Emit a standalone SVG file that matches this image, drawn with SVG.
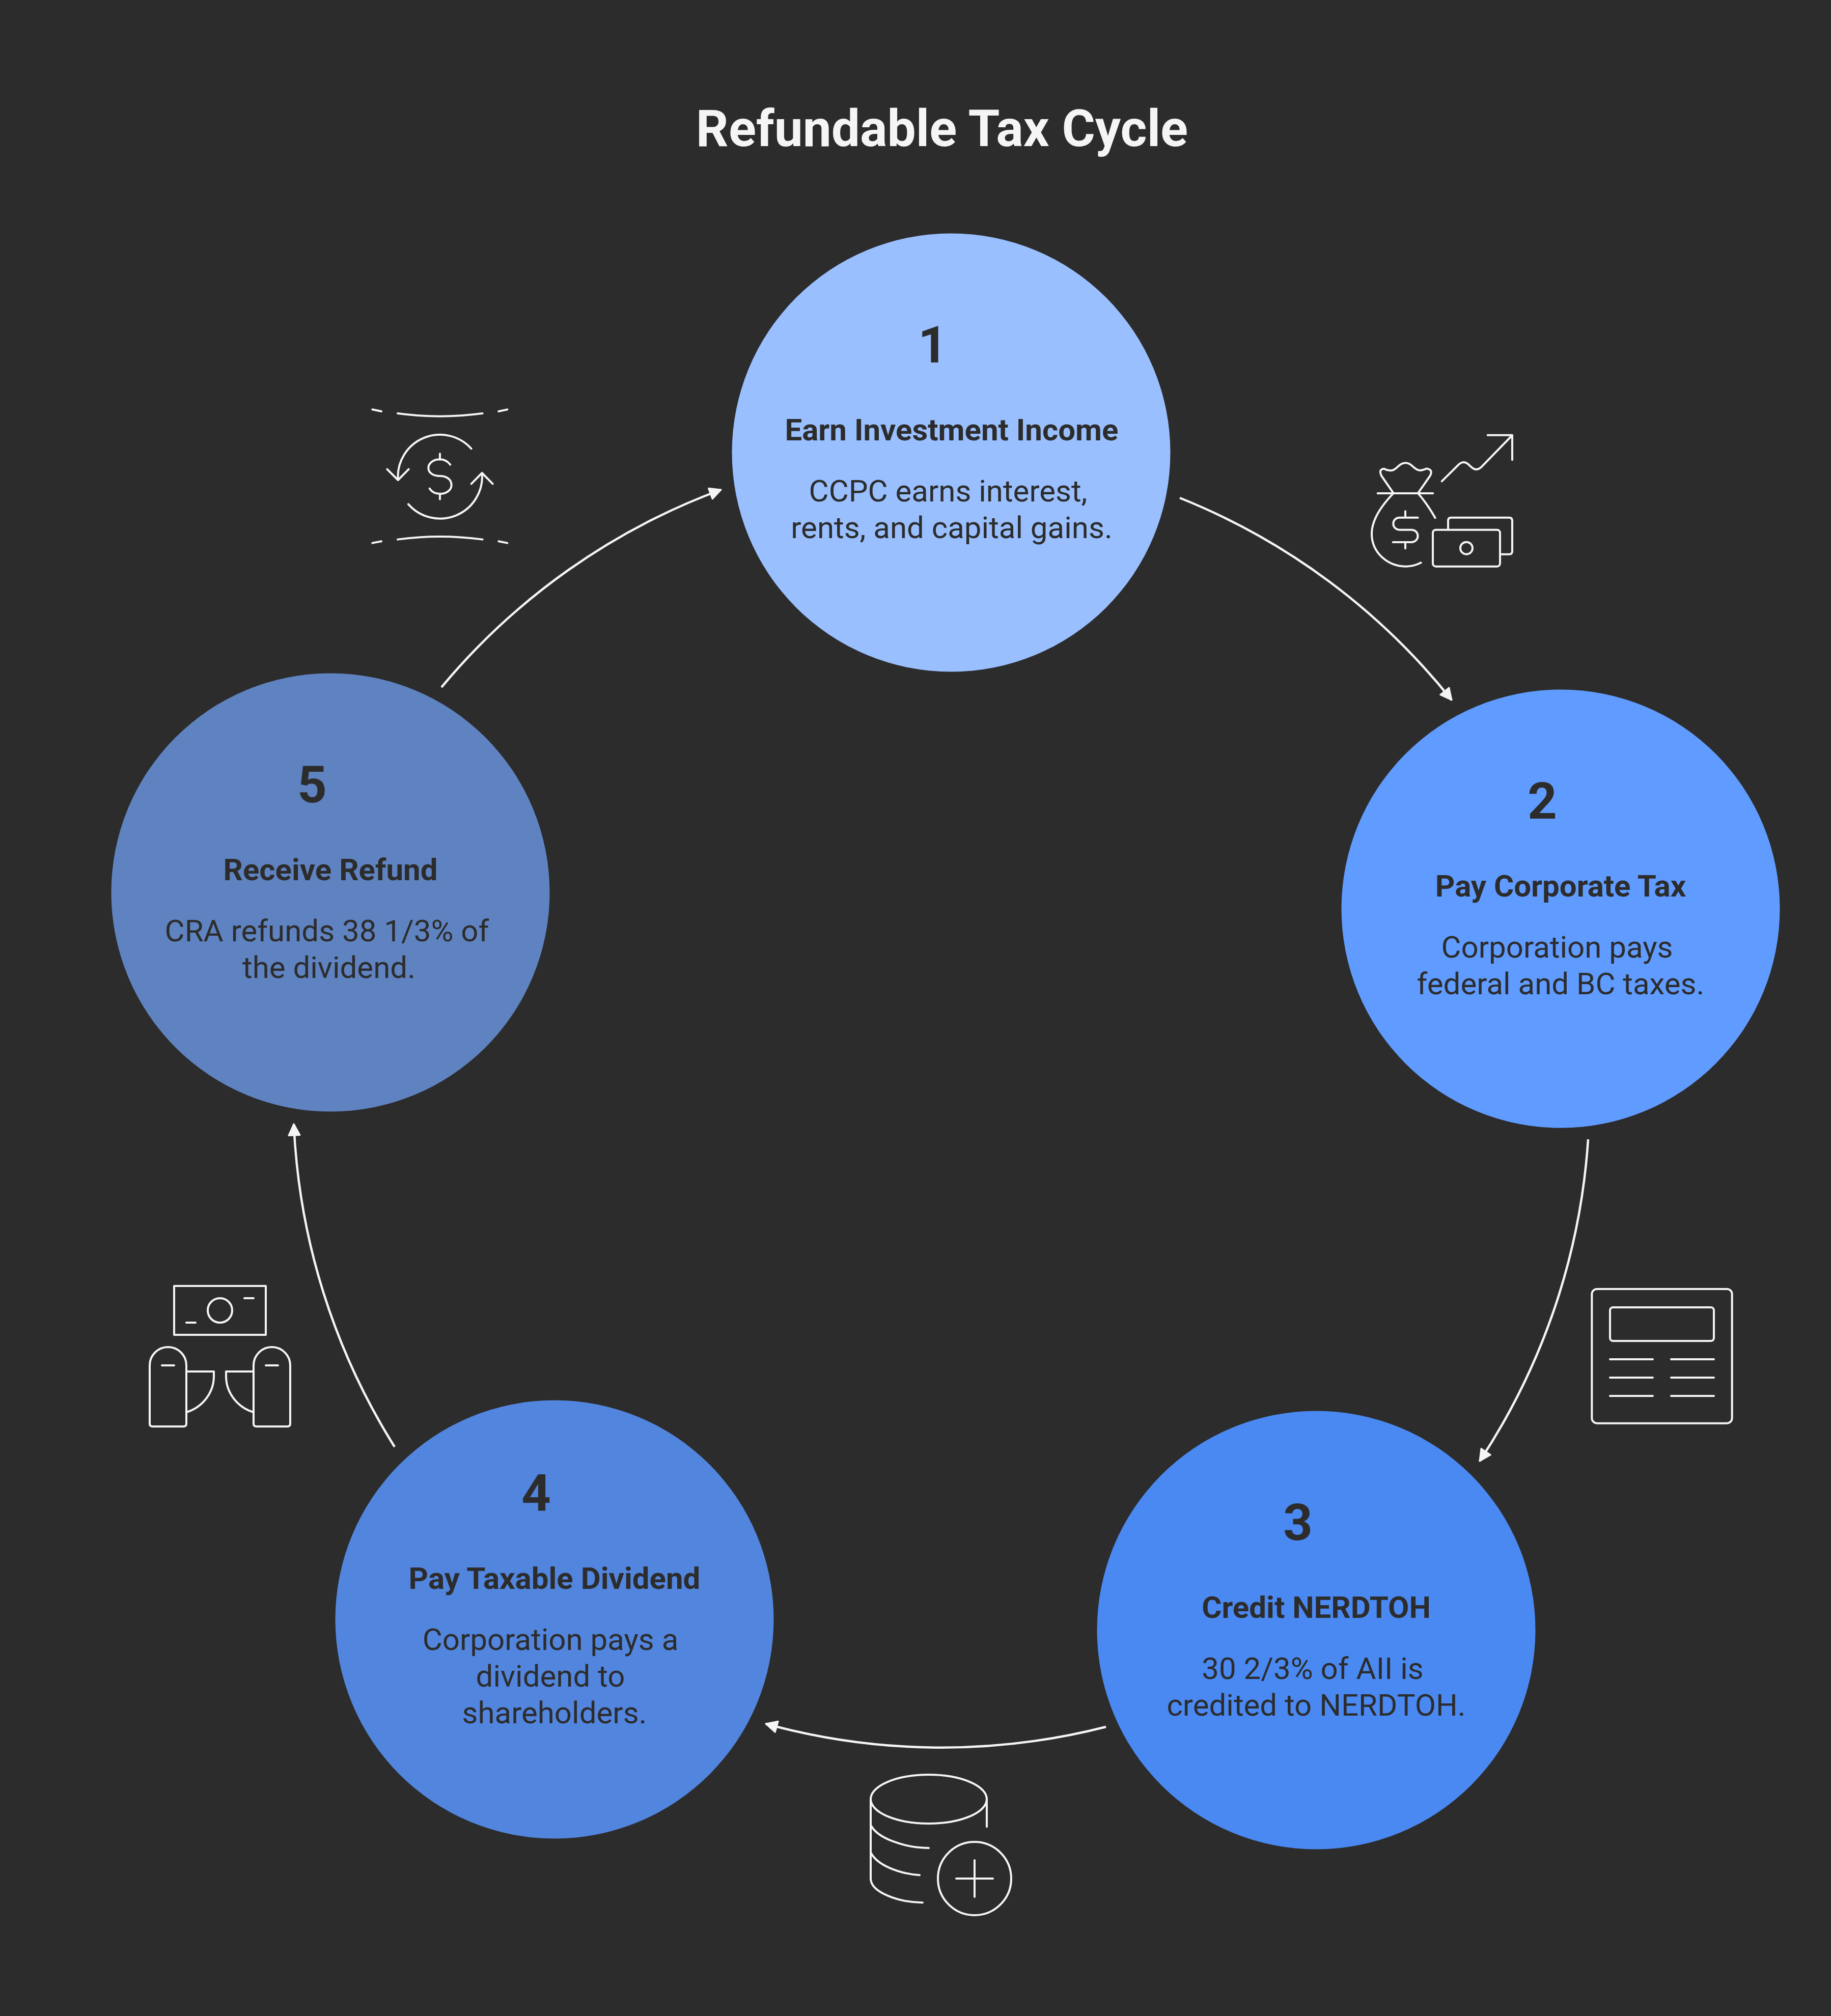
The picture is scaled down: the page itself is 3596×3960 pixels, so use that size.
<svg xmlns="http://www.w3.org/2000/svg" width="3596" height="3960" viewBox="0 0 3596 3960">
<style>
text{font-family:Roboto,"Liberation Sans",sans-serif;fill:#2c2c2c;text-anchor:middle}
.n{font-size:101px;font-weight:700}
.h{font-size:60px;font-weight:700}
.b{font-size:60px;font-weight:400}
.t{font-size:100px;font-weight:700;fill:#f5f5f5}
.i{fill:none;stroke:#f5f5f5;stroke-width:12;stroke-linecap:round;stroke-linejoin:round}
.c{fill:none;stroke:#f5f5f5;stroke-width:4.5;marker-end:url(#a)}
</style>
<defs>
<marker id="a" markerUnits="userSpaceOnUse" markerWidth="32" markerHeight="32" refX="24" refY="14" orient="auto"><path d="M2 3L24 14L2 25Z" fill="#f5f5f5" stroke="#f5f5f5" stroke-width="3" stroke-linejoin="round"/></marker>
</defs>
<rect width="3596" height="3960" fill="#2c2c2c"/>
<text class="t" x="1850" y="287">Refundable Tax Cycle</text>
<g id="connectors">
<path class="c" d="M2317 978A1300 1300 0 0 1 2851 1375"/>
<path class="c" d="M3119 2238A1300 1300 0 0 1 2906 2870"/>
<path class="c" d="M2172 3392A1300 1300 0 0 1 1504 3386"/>
<path class="c" d="M775 2842A1300 1300 0 0 1 577 2208"/>
<path class="c" d="M867 1350A1300 1300 0 0 1 1416 962"/>
</g>
<g id="node1"><circle cx="1868" cy="889" r="430.5" fill="#99bfff"/>
<text class="n" x="1832" y="712">1</text>
<text class="h" x="1869" y="865">Earn Investment Income</text>
<text class="b" x="1862" y="985">CCPC earns interest,</text>
<text class="b" x="1869" y="1057">rents, and capital gains.</text></g>
<g id="node2"><circle cx="3065" cy="1785" r="430.5" fill="#609bff"/>
<text class="n" x="3029" y="1608">2</text>
<text class="h" x="3065" y="1761">Pay Corporate Tax</text>
<text class="b" x="3058" y="1881">Corporation pays</text>
<text class="b" x="3065" y="1953">federal and BC taxes.</text></g>
<g id="node3"><circle cx="2585" cy="3202" r="430.5" fill="#4a89f2"/>
<text class="n" x="2549" y="3025">3</text>
<text class="h" x="2585" y="3178">Credit NERDTOH</text>
<text class="b" x="2578" y="3298">30 2/3% of AII is</text>
<text class="b" x="2585" y="3370">credited to NERDTOH.</text></g>
<g id="node4"><circle cx="1089" cy="3181" r="430.5" fill="#5285de"/>
<text class="n" x="1053" y="2968">4</text>
<text class="h" x="1089" y="3121">Pay Taxable Dividend</text>
<text class="b" x="1081" y="3241">Corporation pays a</text>
<text class="b" x="1081" y="3313">dividend to</text>
<text class="b" x="1089" y="3385">shareholders.</text></g>
<g id="node5"><circle cx="649" cy="1753" r="430.5" fill="#5f83c0"/>
<text class="n" x="613" y="1576">5</text>
<text class="h" x="649" y="1729">Receive Refund</text>
<text class="b" x="642" y="1849">CRA refunds 38 1/3% of</text>
<text class="b" x="646" y="1921">the dividend.</text></g>
<g id="icon1" class="i" transform="translate(2640 820) scale(.3333)">
<path d="M575 376L670 282Q700 250 730 275L750 293Q778 318 805 295L990 105M845 104H990V250"/>
<path d="M290 446L220 345Q200 305 235 302Q255 315 280 312C310 310 320 268 362 268C400 268 410 310 445 312C470 312 480 300 490 302Q525 310 505 345L435 446M197 447H523"/>
<path d="M290 447C210 530 162 610 162 685C162 800 260 878 362 878Q410 878 452 856M435 447Q490 510 536 592"/>
<path d="M360 553V590M434 590H325A36 36 0 0 0 325 662H397A36 36 0 0 1 397 735H287M360 735V772"/>
<rect x="522" y="662" width="396" height="216" rx="18"/><circle cx="720" cy="770" r="36"/>
<path d="M612 662V610Q612 590 630 590H972Q990 590 990 610V788Q990 806 972 806H918"/>
</g>
<g id="icon2" class="i" transform="translate(3100 2500) scale(.3333)">
<rect x="79" y="96" width="826" height="791" rx="30"/><rect x="186" y="204" width="612" height="198" rx="18"/>
<path d="M186 510H438M546 510H798M186 618H438M546 618H798M186 726H438M546 726H798"/>
</g>
<g id="icon3" class="i" transform="translate(1680 3460) scale(.3333)">
<ellipse cx="432" cy="222" rx="342" ry="144"/>
<path d="M90 222V690C90 770 250 830 396 832M92 378C130 450 280 508 432 510M92 540C130 610 250 660 378 670M774 222V385"/>
<circle cx="702" cy="690" r="216"/><path d="M702 582V798M594 690H810"/>
</g>
<g id="icon4" class="i" transform="translate(270 2500) scale(.3333)">
<rect x="216" y="78" width="540" height="288"/><circle cx="486" cy="222" r="72"/><path d="M288 294H342M630 150H684"/>
<path d="M72 546A108 108 0 0 1 288 546V890Q288 906 270 906H90Q72 906 72 890ZM144 546H216M288 582H450V610C450 710 380 795 288 822"/>
<path d="M684 546A108 108 0 0 1 900 546V890Q900 906 882 906H702Q684 906 684 890ZM756 546H828M684 582H522V610C522 710 592 795 684 822"/>
</g>
<g id="icon5" class="i" transform="translate(700 770) scale(.3333)">
<path d="M243 126Q490 160 743 126M94 103L147 114M838 114L889 103M243 869Q490 835 743 869M94 890L147 880M838 880L889 890"/>
<path d="M677 334A248 248 0 0 0 245 517M181 455L245 519L308 455M306 661A248 248 0 0 0 740 477M677 541L740 477L803 541"/>
<path d="M492 364V398M492 600V632M553 428C535 405 515 397 492 397C455 397 424 418 424 447C424 478 455 495 492 495C530 495 560 515 560 548C560 578 530 600 492 600C465 600 445 590 431 569"/>
</g>
</svg>
